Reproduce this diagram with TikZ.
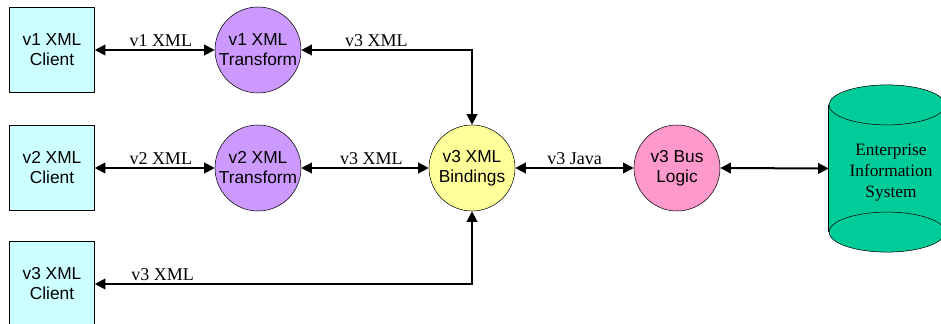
\documentclass[tikz,border=0pt]{standalone}
\usepackage{fontspec}
\setmainfont{Liberation Serif}
\newfontfamily\arialfont{Liberation Sans}
\usetikzlibrary{arrows.meta, positioning, shapes.geometric}
\definecolor{clientfill}{RGB}{204,255,255}
\definecolor{xformfill}{RGB}{204,153,255}
\definecolor{bindfill}{RGB}{255,255,153}
\definecolor{busfill}{RGB}{255,153,204}
\definecolor{eisfill}{RGB}{0,204,153}
\tikzset{
  box/.style = {rectangle, draw=black, fill=clientfill, minimum width=63.75pt, minimum height=63.75pt, align=center, font=\arialfont\fontsize{13}{15}\selectfont, inner sep=2pt},
  proc/.style = {circle, draw=black, minimum size=64.5pt, align=center, font=\arialfont\fontsize{13}{15}\selectfont, inner sep=0pt},
  lbl/.style = {font=\fontsize{13.5}{15}\selectfont, above, inner sep=2pt},
  arr/.style = {{Triangle[length=8pt,width=8pt]}-{Triangle[length=8pt,width=8pt]}, line width=1.5pt}
}

\begin{document}
\begin{tikzpicture}[x=0.75pt, y=-0.75pt]
\useasboundingbox (0,0) rectangle (941,324);

% Clients
\node[box] (client1) at (52,50) {v1 XML\\Client};
\node[box] (client2) at (52,168) {v2 XML\\Client};
\node[box] (client3) at (52,284) {v3 XML\\Client};

% Transforms
\node[proc, fill=xformfill] (xform1) at (258,50) {v1 XML\\Transform};
\node[proc, fill=xformfill] (xform2) at (258,168) {v2 XML\\Transform};

% Bindings and bus
\node[proc, fill=bindfill] (bind) at (472,168) {v3 XML\\Bindings};
\node[proc, fill=busfill] (bus) at (677,168) {v3 Bus\\Logic};

% Enterprise system (cylinder drawn round the node)
\node[rectangle, minimum width=87pt, minimum height=125pt, inner sep=0pt] (eis) at (887,168.5) {};
\coordinate (eistop) at ([yshift=-15pt]eis.north);
\coordinate (eisbot) at ([yshift=15pt]eis.south);
\fill[eisfill] (eistop) ellipse [x radius=43.5pt, y radius=15pt];
\fill[eisfill] (eisbot) ellipse [x radius=43.5pt, y radius=15pt];
\fill[eisfill] ([yshift=-15pt]eis.north west) rectangle ([yshift=15pt]eis.south east);
\draw (eistop) ellipse [x radius=43.5pt, y radius=15pt];
\draw (eisbot) ellipse [x radius=43.5pt, y radius=15pt];
\draw ([yshift=-15pt]eis.north west) -- ([yshift=15pt]eis.south west);
\draw ([yshift=-15pt]eis.north east) -- ([yshift=15pt]eis.south east);
\node[align=center, font=\fontsize{13}{16}\selectfont] (eistext) at ([xshift=3pt,yshift=-3pt]eis.center) {Enterprise\\Information\\System};

% ----- ARROWS -----
\draw[arr] (client1.east) -- node[lbl, pos=0.55] {v1 XML} (xform1.west);
\draw[arr] (client2.east) -- node[lbl, pos=0.55] {v2 XML} (xform2.west);
\draw[arr] (xform1.east) -| node[lbl, pos=0.22] {v3 XML} (bind.north);
\draw[arr] (xform2.east) -- node[lbl, pos=0.55] {v3 XML} (bind.west);
\draw[arr] (client3.east) -| node[lbl, pos=0.09] {v3 XML} (bind.south);
\draw[arr] (bind.east) -- node[lbl] {v3 Java} (bus.west);
\draw[arr] (bus.east) -- (eis.west);

\end{tikzpicture}
\end{document}
